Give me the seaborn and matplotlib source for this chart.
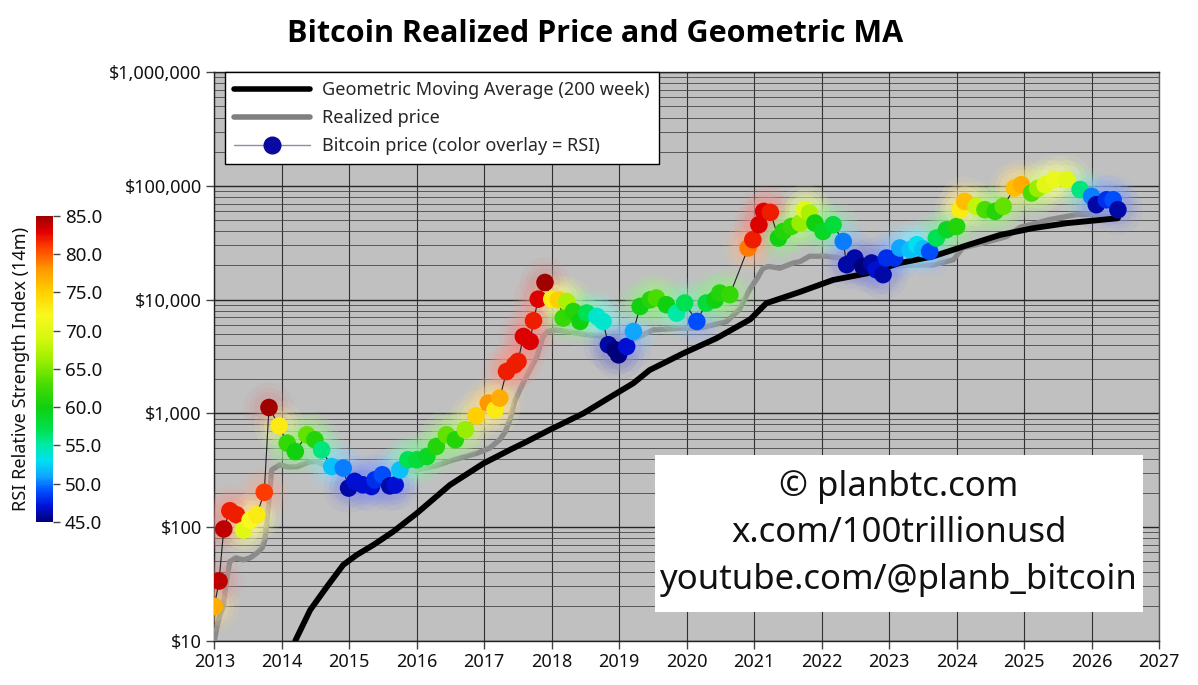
import numpy as np
import pandas as pd
import matplotlib
matplotlib.use("Agg")
import matplotlib.pyplot as plt
import seaborn as sns
from matplotlib.colors import LinearSegmentedColormap, Normalize, to_rgb
from matplotlib.lines import Line2D
from matplotlib.ticker import FuncFormatter, LogLocator, NullFormatter, FixedLocator
from matplotlib.patches import Rectangle
from matplotlib.cm import ScalarMappable

# ---------------- data ----------------
price_year = [2013.00, 2013.07, 2013.14, 2013.23, 2013.33, 2013.43, 2013.53, 2013.63, 2013.74, 2013.81,
              2013.96, 2014.08, 2014.20, 2014.37, 2014.49, 2014.59, 2014.74, 2014.91, 2014.99, 2015.08,
              2015.20, 2015.33, 2015.38, 2015.49, 2015.60, 2015.68, 2015.75, 2015.87, 2016.00, 2016.15,
              2016.29, 2016.44, 2016.57, 2016.72, 2016.88, 2017.06, 2017.16, 2017.23, 2017.33, 2017.45,
              2017.50, 2017.58, 2017.68, 2017.73, 2017.80, 2017.90, 2018.00, 2018.10, 2018.17, 2018.22,
              2018.32, 2018.42, 2018.52, 2018.67, 2018.76, 2018.84, 2018.94, 2018.99, 2019.11, 2019.21,
              2019.31, 2019.46, 2019.55, 2019.70, 2019.85, 2019.97, 2020.15, 2020.29, 2020.42, 2020.49,
              2020.64, 2020.91, 2020.98, 2021.07, 2021.14, 2021.24, 2021.36, 2021.43, 2021.55, 2021.68,
              2021.75, 2021.82, 2021.90, 2022.02, 2022.17, 2022.32, 2022.37, 2022.49, 2022.61, 2022.74,
              2022.81, 2022.91, 2022.96, 2023.08, 2023.16, 2023.31, 2023.41, 2023.50, 2023.60, 2023.70,
              2023.85, 2024.00, 2024.05, 2024.12, 2024.29, 2024.42, 2024.57, 2024.69, 2024.86, 2024.96,
              2025.11, 2025.20, 2025.31, 2025.45, 2025.63, 2025.83, 2026.00, 2026.07, 2026.22, 2026.32,
              2026.39]
price_usd = [20, 33.5, 96, 139, 128, 94, 115, 128, 202, 1125,
             776, 547, 461, 647, 585, 477, 340, 330, 220, 252,
             235, 227, 260, 288, 230, 234, 318, 390, 390, 417,
             511, 647, 585, 716, 950, 1230, 1075, 1360, 2330, 2670,
             2860, 4740, 4290, 6520, 10100, 14150, 10100, 9980, 6880, 9640,
             7870, 6430, 7620, 7120, 6430, 4010, 3620, 3270, 3870, 5250,
             8710, 9970, 10330, 9020, 7620, 9330, 6430, 9330, 9970, 11420,
             11050, 28460, 33670, 45600, 59700, 58600, 34800, 39800, 44000, 47200,
             61800, 57800, 47200, 39800, 45600, 32500, 20300, 23200, 19600, 21000,
             18300, 16600, 23200, 23200, 28460, 27500, 30400, 28000, 26500, 34800,
             41200, 44000, 61800, 73100, 66100, 61800, 59700, 66100, 95900, 102600,
             86700, 95000, 102600, 113700, 113700, 93000, 81100, 68400, 75600, 75600,
             61800]
price_rsi = [77, 84, 84, 82, 82, 70, 72, 73, 81, 85,
             73, 62, 60, 64, 61, 56, 52, 50, 46, 47,
             47, 47, 48, 49, 46, 47, 52, 57, 58, 59,
             61, 64, 61, 66, 75, 78, 73, 77, 82, 82,
             82, 83, 83, 82, 83, 85, 73, 75, 62, 67,
             61, 60, 57, 54, 54, 46, 45, 45, 47, 51,
             60, 61, 63, 60, 55, 57, 49, 58, 60, 61,
             62, 79, 82, 83, 83, 82, 60, 61, 62, 66,
             70, 67, 60, 59, 58, 50, 46, 46, 45, 46,
             47, 46, 48, 48, 51, 52, 53, 52, 49, 57,
             59, 61, 73, 76, 68, 63, 61, 64, 76, 77,
             63, 66, 70, 71, 70, 56, 50, 46, 48, 49,
             46]

realized_year = [2013.00, 2013.03, 2013.08, 2013.13, 2013.17, 2013.23, 2013.32, 2013.43, 2013.53, 2013.63,
                 2013.71, 2013.75, 2013.78, 2013.80, 2013.83, 2013.85, 2013.97, 2014.09, 2014.22, 2014.42,
                 2014.52, 2014.64, 2014.76, 2015.01, 2015.35, 2015.60, 2015.75, 2016.00, 2016.24, 2016.54,
                 2016.89, 2017.08, 2017.23, 2017.31, 2017.38, 2017.45, 2017.55, 2017.65, 2017.78, 2017.87,
                 2017.94, 2018.06, 2018.22, 2018.52, 2018.76, 2019.01, 2019.16, 2019.31, 2019.50, 2019.94,
                 2020.19, 2020.59, 2020.78, 2020.93, 2021.05, 2021.13, 2021.21, 2021.38, 2021.58, 2021.68,
                 2021.82, 2022.07, 2022.27, 2022.42, 2022.71, 2022.96, 2023.41, 2023.65, 2023.95, 2024.09,
                 2024.39, 2024.74, 2024.94, 2025.16, 2025.38, 2025.78, 2026.05, 2026.39]
realized_usd = [10, 12.4, 16.8, 19.9, 31, 49.7, 53.5, 51.3, 53.5, 59,
                65.6, 77, 115, 151, 235, 318, 352, 338, 338, 376,
                376, 352, 318, 298, 298, 293, 298, 318, 340, 389,
                445, 494, 587, 687, 872, 1270, 1720, 2260, 3160, 4750,
                5260, 5420, 5260, 4920, 4750, 4290, 4250, 4750, 5420, 5610,
                5610, 6400, 8200, 12200, 15600, 18900, 19600, 18900, 21000, 21600,
                24100, 24100, 23300, 21600, 19500, 19600, 20200, 20200, 22400, 28500,
                31500, 35800, 43300, 46700, 50700, 56000, 56500, 53000]

gma_year = [2014.20, 2014.42, 2014.67, 2014.91, 2015.11, 2015.36, 2015.65, 2016.00, 2016.49, 2016.99,
            2017.38, 2017.63, 2017.97, 2018.47, 2018.96, 2019.21, 2019.45, 2019.95, 2020.44, 2020.94,
            2021.18, 2021.68, 2022.17, 2022.67, 2023.16, 2023.65, 2024.15, 2024.64, 2025.13, 2025.63,
            2026.39]
gma_usd = [10, 18.6, 29.9, 46.4, 56.8, 69.7, 91, 132, 234, 363,
           477, 564, 716, 1000, 1500, 1840, 2400, 3370, 4570, 6700,
           9300, 11700, 14900, 17000, 21000, 24000, 30000, 37000, 42500, 47000,
           52000]

year_ticks = list(range(2013, 2028))
price_ticks = [10, 100, 1000, 10000, 100000, 1000000]
rsi_ticks = [45, 50, 55, 60, 65, 70, 75, 80, 85]

title = "Bitcoin Realized Price and Geometric MA"
legend_labels = ["Geometric Moving Average (200 week)", "Realized price",
                 "Bitcoin price (color overlay = RSI)"]
cbar_label = "RSI Relative Strength Index (14m)"
watermark = ["\u00a9 planbtc.com", "x.com/100trillionusd", "youtube.com/@planb_bitcoin"]

# ---------------- style ----------------
sns.set_style("white")
plt.rcParams["font.family"] = ["Noto Sans", "DejaVu Sans"]

rsi_stops = [(45, "#00007a"), (47, "#0010d8"), (49, "#0050ff"), (51, "#10a8ff"),
             (53, "#00e0f0"), (55, "#00eaa8"), (57, "#00e050"), (60, "#10d010"),
             (63, "#48dc00"), (66, "#98ee00"), (69, "#d4f810"), (72, "#f8f820"),
             (75, "#ffd200"), (78, "#ff9a00"), (81, "#ff3c00"), (83, "#e00000"),
             (85, "#a00000")]
cmap = LinearSegmentedColormap.from_list(
    "rsi", [((v - 45) / 40, c) for v, c in rsi_stops])
# lighter version for the soft glow around points
glow_cmap = LinearSegmentedColormap.from_list(
    "rsi_glow", [((v - 45) / 40, tuple(0.45 * np.array(to_rgb(c)) + 0.55)) for v, c in rsi_stops])
norm = Normalize(45, 85)

fig = plt.figure(figsize=(11.98, 6.85), dpi=100)
ax = fig.add_axes([0.1789, 0.0647, 0.9675 - 0.1789, 0.8945 - 0.0647])
ax.set_facecolor("#c0c0c0")

df_p = pd.DataFrame({"year": price_year, "usd": price_usd, "rsi": price_rsi})
df_r = pd.DataFrame({"year": realized_year, "usd": realized_usd})
df_g = pd.DataFrame({"year": gma_year, "usd": gma_usd})

ax.set_yscale("log")

sns.lineplot(data=df_r, x="year", y="usd", ax=ax, color="#8a8a8a", lw=3.8,
             sort=False, estimator=None, zorder=3, legend=False)

# glow
for s, a in [(1300, 0.10), (800, 0.14), (480, 0.20)]:
    sns.scatterplot(data=df_p, x="year", y="usd", hue="rsi", palette=glow_cmap, hue_norm=norm,
                    s=s, alpha=a, linewidth=0, ax=ax, legend=False, zorder=4)

sns.lineplot(data=df_g, x="year", y="usd", ax=ax, color="black", lw=4.2,
             sort=False, estimator=None, zorder=5, legend=False)
sns.lineplot(data=df_p, x="year", y="usd", ax=ax, color="#202020", lw=0.8,
             sort=False, estimator=None, zorder=6, legend=False)
sns.scatterplot(data=df_p, x="year", y="usd", hue="rsi", palette=cmap, hue_norm=norm,
                s=160, linewidth=0, ax=ax, legend=False, zorder=7)

ax.set_xlim(2013, 2027)
ax.set_ylim(10, 1_000_000)
ax.set_xlabel("")
ax.set_ylabel("")
ax.xaxis.set_major_locator(FixedLocator(year_ticks))
ax.set_xticklabels([str(y) for y in year_ticks])
ax.yaxis.set_major_locator(FixedLocator(price_ticks))
ax.yaxis.set_major_formatter(FuncFormatter(lambda v, p: f"${v:,.0f}"))
ax.yaxis.set_minor_locator(LogLocator(base=10, subs=np.arange(2, 10), numticks=20))
ax.yaxis.set_minor_formatter(NullFormatter())
ax.tick_params(axis="both", which="major", labelsize=13, length=6, width=1,
               color="#444444", labelcolor="#111111", direction="out", pad=3)
ax.tick_params(axis="y", which="minor", length=0)
ax.tick_params(left=True, bottom=True)
ax.grid(True, which="major", axis="y", color="#262626", lw=1.0, zorder=1)
ax.grid(True, which="minor", axis="y", color="#464646", lw=0.6, zorder=1)
ax.grid(True, which="major", axis="x", color="#303030", lw=0.8, zorder=1)
ax.set_axisbelow(True)
for sp in ax.spines.values():
    sp.set_color("#555555")
    sp.set_linewidth(1.0)
ax.spines["left"].set_color("#222222")
ax.spines["bottom"].set_color("#222222")
ax.spines["top"].set_color("#222222")

# legend
handles = [Line2D([], [], color="black", lw=4),
           Line2D([], [], color="#808080", lw=4),
           Line2D([], [], color="#8c8ca6", lw=1, marker="o", markersize=12,
                  markerfacecolor="#0a0aa0", markeredgecolor="#0a0aa0")]
leg = ax.legend(handles, legend_labels, loc="upper left", bbox_to_anchor=(0.0113, 1.0),
                borderaxespad=0, fontsize=13, frameon=True, fancybox=False,
                framealpha=1, edgecolor="black", handlelength=4.2, handletextpad=0.7,
                labelspacing=0.55, borderpad=0.5)
leg.get_frame().set_linewidth(1.0)
leg.set_zorder(10)

# watermark box
ax.add_patch(Rectangle((0.4665, 0.0505), 0.983 - 0.4665, 0.3267 - 0.0505,
                       transform=ax.transAxes, facecolor="white", edgecolor="none", zorder=9))
for txt, yy in zip(watermark, [0.2704, 0.1895, 0.1068]):
    ax.text(0.7248, yy, txt, transform=ax.transAxes, ha="center", va="center",
            fontsize=25, color="#111111", zorder=10)

# title
fig.text(0.4967, 0.9505, title, ha="center", va="center", fontsize=22,
         fontweight="bold", color="black", family=["Open Sans", "DejaVu Sans"])

# colorbar
cax = fig.add_axes([0.030, 0.238, 0.0142, 0.447])
cb = fig.colorbar(ScalarMappable(norm=norm, cmap=cmap), cax=cax, ticks=rsi_ticks)
cb.outline.set_visible(False)
cb.ax.set_yticklabels([f"{t:.1f}" for t in rsi_ticks])
cb.ax.tick_params(labelsize=13.5, length=5, width=1, color="#444444", labelcolor="#111111")
cb.ax.yaxis.set_label_position("left")
cb.set_label(cbar_label, fontsize=13, labelpad=4, color="#111111")

fig.savefig("out.png", dpi=100)
